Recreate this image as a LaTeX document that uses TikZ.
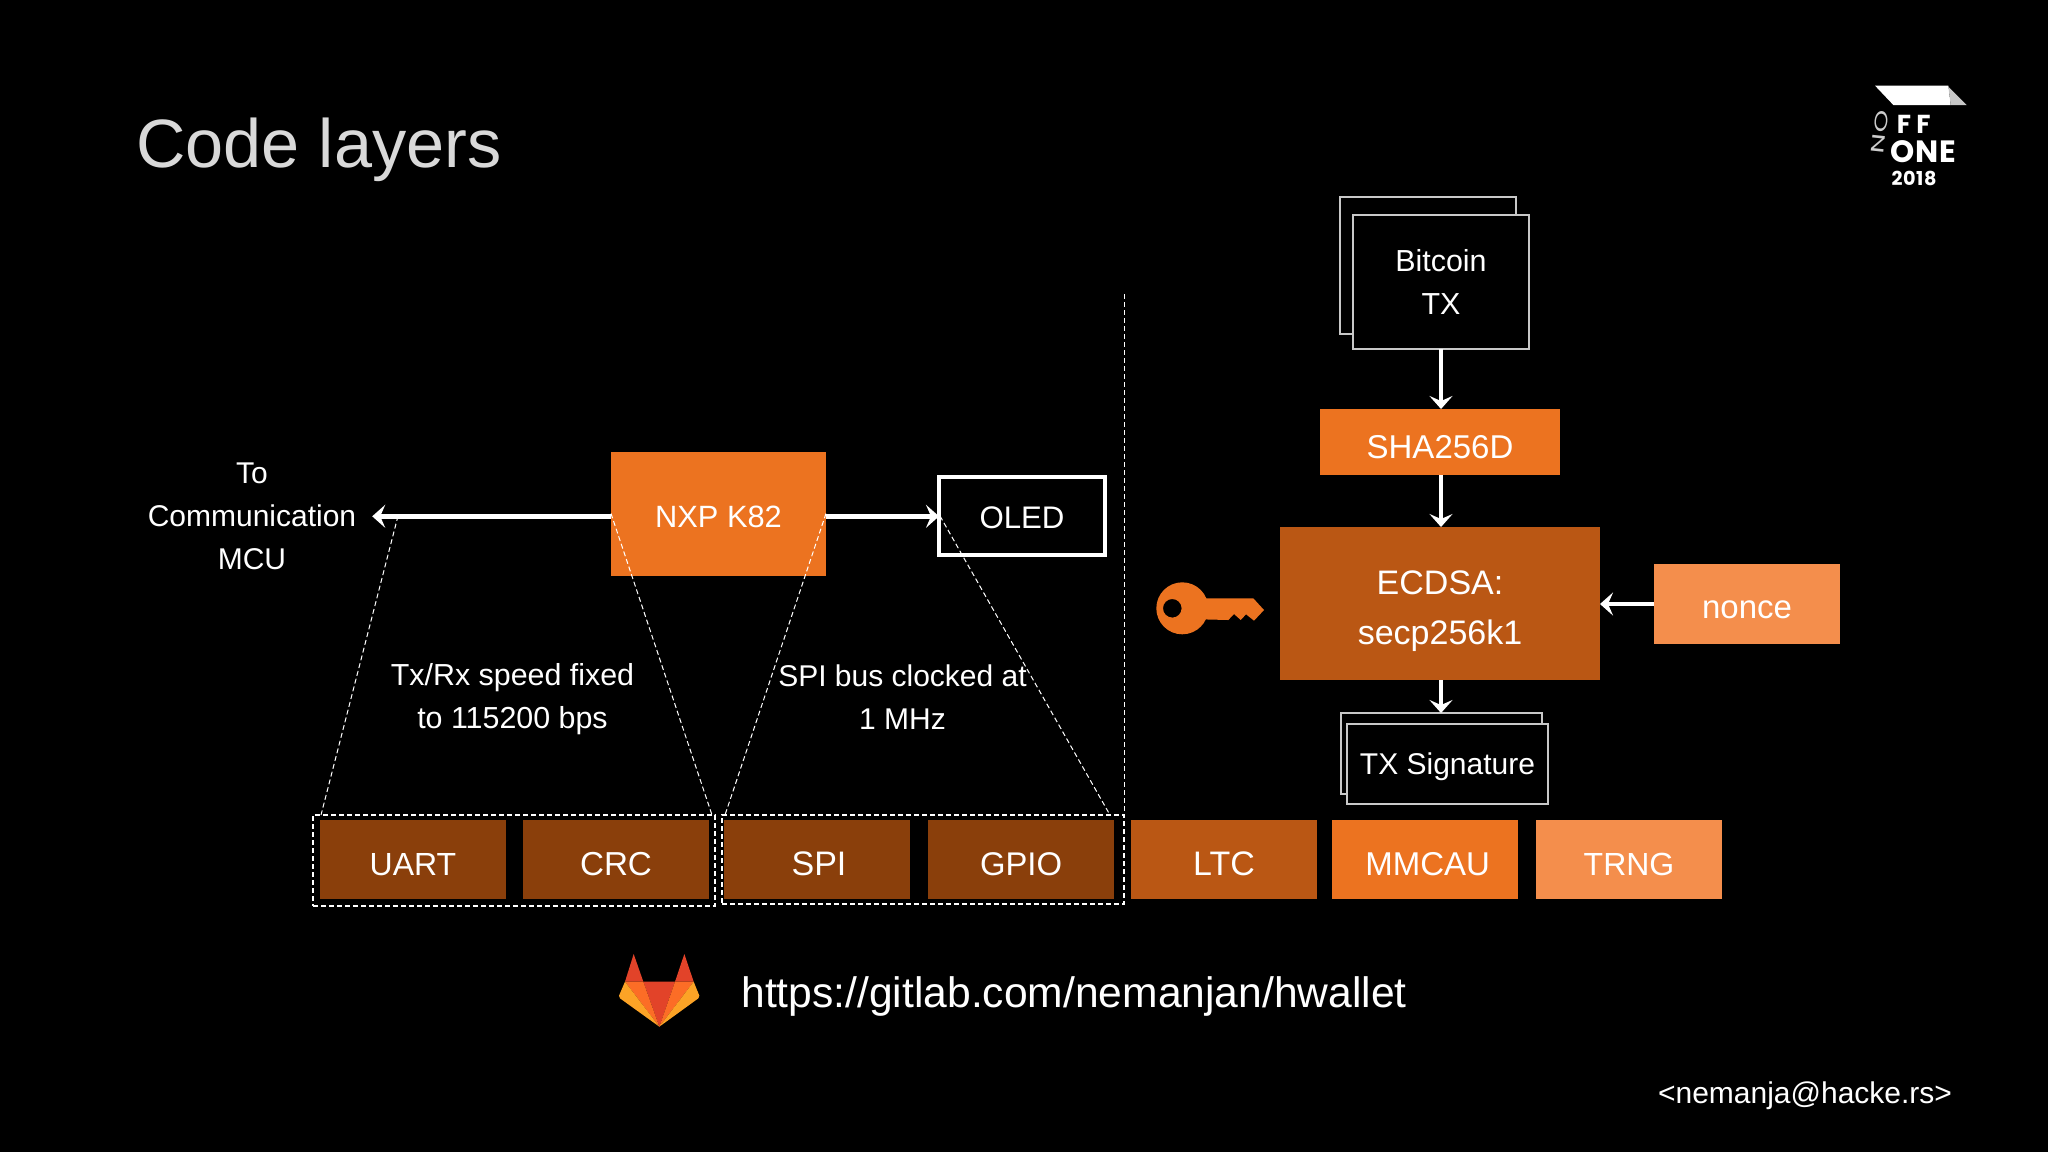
\documentclass[tikz,border=0pt]{standalone}
\usepackage{fontspec}
\usepackage{graphicx}
\setmainfont{Liberation Sans}
\newfontfamily\logofont[LetterSpace=20]{Poppins}
\newfontfamily\logofontb[LetterSpace=3]{Poppins}
\usetikzlibrary{arrows.meta}
\definecolor{orA}{HTML}{EC7320}
\definecolor{orB}{HTML}{BA5714}
\definecolor{orC}{HTML}{8A3F0B}
\definecolor{orD}{HTML}{F48E4C}
\definecolor{glA}{HTML}{E24329}
\definecolor{glB}{HTML}{FC6D26}
\definecolor{glC}{HTML}{FCA326}
\definecolor{frameg}{HTML}{C8C8C8}
\tikzset{
  sz/.style 2 args={minimum width=#1*0.5pt,minimum height=#2*0.5pt},
  fsz/.style={font=\fontsize{#1}{24.8}\selectfont},
  base/.style={text height=#1,text depth=0pt},
  block/.style={inner sep=0pt,outer sep=0pt,text=white,align=center},
  chip/.style={block,sz={186}{79},base=16.2pt},
  framebox/.style={block,draw=frameg,line width=0.9pt,fill=black},
  label/.style={inner sep=0pt,outer sep=0pt,text=white,align=center},
  flow/.style={draw=white,line width=2.2pt,-{Stealth[length=6.5pt,width=11.5pt,inset=2.5pt]}},
  fine/.style={draw=white,line width=0.5pt,dash pattern=on 2.5pt off 1.5pt},
  zone/.style={fine,inner sep=0pt,outer sep=0pt,line width=0.7pt},
}
\begin{document}
\begin{tikzpicture}[x=0.5pt,y=-0.5pt]
\fill[black] (0,0) rectangle (2048,1152);
\useasboundingbox (0,0) rectangle (2048,1152);

\node[inner sep=0pt,anchor=center,text=black!15,font=\fontsize{34.2}{40}\selectfont] (title) at (319,149.5) {Code layers};

% main blocks
\node[block,fill=orA,sz={215}{124},fsz=15.4,base=14.3pt] (nxp) at (718.5,513.5) {NXP K82};
\node[block,draw=white,line width=2pt,sz={166}{78},fsz=15.6,base=12.8pt] (oled) at (1022,515.5) {OLED};
\node[label,inner xsep=8pt,font=\fontsize{15}{21.5}\selectfont] (comm) at (252,516.3) {To\\Communication\\MCU};

\node[framebox,sz={176}{137}] (btxb) at (1428,265.5) {};
\node[framebox,sz={176}{134},font=\fontsize{15.2}{21.5}\selectfont] (btx) at (1441,282) {Bitcoin\\TX};
\node[block,fill=orA,sz={240}{66},fsz=16.5,base=16.4pt] (sha) at (1440,442) {SHA256D};
\node[block,fill=orB,sz={320}{153},fsz=17] (ecdsa) at (1440,603.5) {\rule{0pt}{19.7pt}ECDSA:\\secp256k1};
\node[block,fill=orD,sz={186}{80},fsz=16.5,base=14.2pt] (nonce) at (1747,604) {nonce};
\node[framebox,sz={201}{81}] (sigb) at (1441.5,753.5) {};
\node[framebox,sz={201}{80},fsz=15,base=10.5pt] (sig) at (1447.5,764) {TX Signature};

% bottom row
\node[chip,fill=orC,fsz=16] (uart) at (413,859.5) {UART};
\node[chip,fill=orC,fsz=16.6] (crc) at (616,859.5) {CRC};
\node[chip,fill=orC,fsz=17] (spi) at (817,859.5) {\hspace*{2pt}SPI};
\node[chip,fill=orC,fsz=16.4] (gpio) at (1021,859.5) {GPIO};
\node[chip,fill=orB,fsz=17] (ltc) at (1224,859.5) {LTC};
\node[chip,fill=orA,fsz=16.5] (mmcau) at (1425,859.5) {\hspace*{2.6pt}MMCAU};
\node[chip,fill=orD,fsz=16] (trng) at (1629,859.5) {TRNG};
\node[zone,sz={402}{91}] (zonea) at (514,860.5) {};
\node[zone,sz={402}{89}] (zoneb) at (923,859.5) {};

% free labels
\node[label,font=\fontsize{15.2}{21.5}\selectfont] (uartnote) at (512.5,699.6) {Tx/Rx speed fixed\\to 115200 bps};
\node[label,font=\fontsize{15}{21.5}\selectfont] (spinote) at (902.5,697) {SPI bus clocked at\\1 MHz};
\node[inner sep=0pt,text=white,font=\fontsize{21.3}{26}\selectfont] (url) at (1074,996.9) {https://gitlab.com/nemanjan/hwallet};
\node[inner sep=0pt,text=white,font=\fontsize{15}{18}\selectfont] (mail) at (1805,1095.3) {<nemanja@hacke.rs>};

% connectors
\coordinate (zaL) at (321,815);
\coordinate (zaR) at (712,815);
\coordinate (zbL) at (725,815);
\coordinate (zbR) at (1110,815);
\coordinate (commend) at (398,516);
\coordinate (oledin) at (940,516);
\coordinate (vtop) at (1124,294);
\coordinate (vbot) at (1124,815);

\draw[flow] (nxp.west |- comm.east) -- (comm.east);
\draw[flow] (nxp.east |- comm.east) -- (oled.west |- comm.east);
\draw[flow] (btx.south) -- (btx.south |- sha.north);
\draw[flow] (btx.south |- sha.south) -- (btx.south |- ecdsa.north);
\draw[flow] (btx.south |- ecdsa.south) -- (btx.south |- sigb.north);
\draw[flow] (nonce.west) -- (ecdsa.east |- nonce.west);

\draw[fine] (commend) -- (zaL);
\draw[fine] (nxp.west) -- (zaR);
\draw[fine] (nxp.east) -- (zbL);
\draw[fine] (oledin) -- (zbR);
\draw[fine] (vtop) -- (vbot);

% key
\begin{scope}
  \fill[orA,even odd rule] (1182.3,608.3) circle[radius=26] (1172.3,608.3) circle[radius=9.3];
  \fill[orA] (1200,598.3) -- (1253.3,598.3) -- (1264,610) -- (1254,620.7) -- (1246,614.3) -- (1240.7,620) -- (1234,614) -- (1228.3,620) -- (1200,619.3) -- cycle;
\end{scope}

% GitLab mark
\begin{scope}[shift={(590,930)},x=0.16667pt,y=-0.16667pt]
  \fill[glA] (131,72) -- (160,155) -- (105,155) -- cycle;
  \fill[glA] (283,72) -- (311,155) -- (255,155) -- cycle;
  \fill[glA] (160,155) -- (255,155) -- (208,290) -- cycle;
  \fill[glB] (105,155) -- (160,155) -- (208,290) -- cycle;
  \fill[glB] (311,155) -- (255,155) -- (208,290) -- cycle;
  \fill[glC] (105,155) -- (87,197) -- (90,205) -- (208,290) -- cycle;
  \fill[glC] (311,155) -- (328,197) -- (325,205) -- (208,290) -- cycle;
\end{scope}

% conference logo
\begin{scope}[shift={(1820,60)},x=0.16667pt,y=-0.16667pt]
  \fill[white] (165,77) -- (385,77) -- (392,135) -- (220,135) -- cycle;
  \fill[black!22] (385,80) -- (440,135) -- (392,135) -- cycle;
  \node[inner sep=0pt,text=white,font=\logofont\bfseries\fontsize{13}{14}\selectfont] (lff) at (281,193) {FF};
  \node[inner sep=0pt,text=white,font=\logofontb\bfseries\fontsize{15.4}{16}\selectfont] (lone) at (309,275) {ONE};
  \node[inner sep=0pt,text=white,font=\logofontb\bfseries\fontsize{9.6}{10}\selectfont] (lyear) at (282,355) {2018};
  \node[inner sep=0pt,text=black!20,rotate=84,font=\logofontb\fontsize{9}{10}\selectfont] (lno) at (180,215) {\scalebox{1.6}[1]{NO}};
\end{scope}
\end{tikzpicture}
\end{document}
